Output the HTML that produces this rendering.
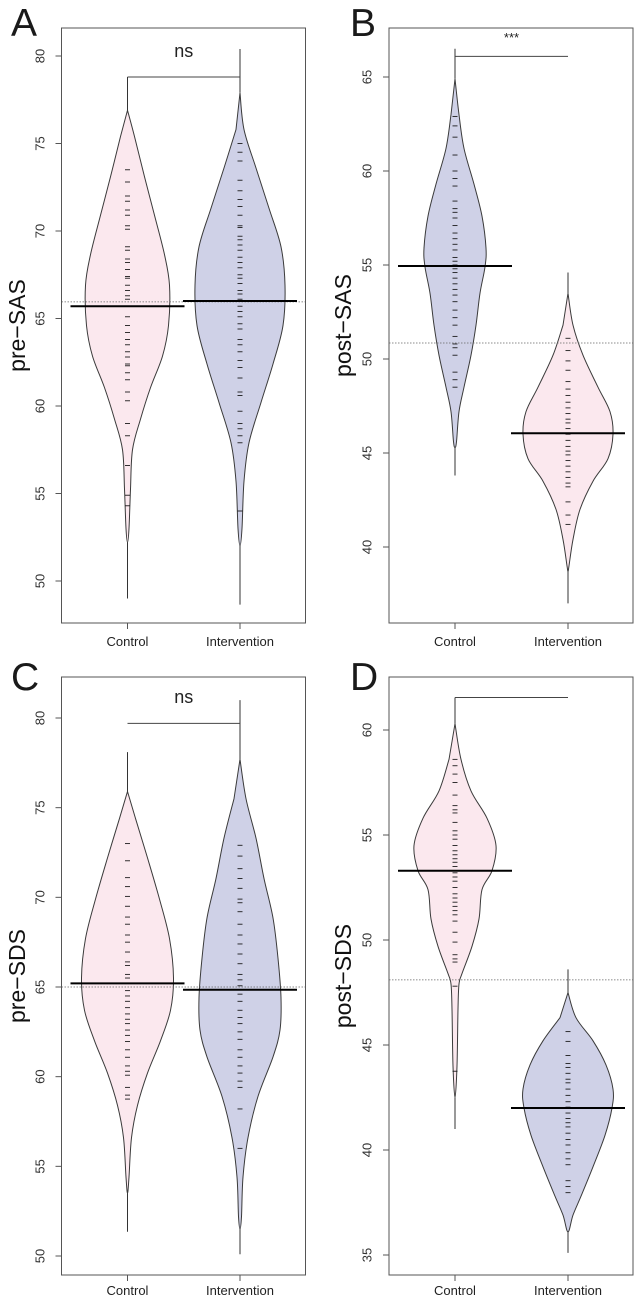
<!DOCTYPE html>
<html><head><meta charset="utf-8"><style>
html,body{margin:0;padding:0;background:#fff;}
svg{display:block;font-family:"Liberation Sans",Arial,sans-serif;}
</style></head><body>
<svg id="fig" width="634" height="1298" viewBox="0 0 634 1298" xmlns="http://www.w3.org/2000/svg"></svg>
<script>
// ---- data ----
const categories = ["Control", "Intervention"];
const panelLetters = ["A", "B", "C", "D"];
const yTitles = ["pre\u2212SAS", "post\u2212SAS", "pre\u2212SDS", "post\u2212SDS"];
const ticksA = [50, 55, 60, 65, 70, 75, 80];
const ticksB = [40, 45, 50, 55, 60, 65];
const ticksC = [50, 55, 60, 65, 70, 75, 80];
const ticksD = [35, 40, 45, 50, 55, 60];
const sigLabels = ["ns", "***", "ns", ""];
const bracketVals = [78.8, 66.1, 79.7, 61.55];
const overallMeans = [65.95, 50.85, 65.0, 48.1];
const groupMeansA = [65.7, 66.0];
const groupMeansB = [54.95, 46.05];
const groupMeansC = [65.2, 64.85];
const groupMeansD = [53.3, 42.0];
const rangeA = [[49.0, 78.8], [48.65, 80.4]];
const rangeB = [[43.8, 66.5], [37.0, 54.6]];
const rangeC = [[51.35, 78.1], [50.1, 81.0]];
const rangeD = [[41.0, 61.55], [35.1, 48.6]];
// density profiles: value levels and relative density
const profValsAc = [76.9, 75.4, 73.1, 70.9, 68.65, 66.9, 64.6, 62.85, 61.05, 59.25, 57.5, 55.25, 53, 52.2];
const profDensAc = [0, 7, 17, 27, 37, 42, 41, 35, 23, 13, 5, 3, 1.5, 0];
const profValsAi = [77.9, 75.8, 73.6, 71.3, 69.1, 66.9, 64.6, 62.4, 60.2, 57.9, 55.7, 53, 52];
const profDensAi = [0, 4, 16, 29, 41, 45, 43, 33, 21, 9, 4, 2, 0];
const profValsBc = [64.9, 63, 61.2, 59.3, 57.6, 55.9, 54.9, 53.5, 51.8, 50.2, 48.5, 47.2, 45.6, 45.3];
const profDensBc = [0, 4, 9, 19, 27, 31, 30, 25, 21, 16, 9, 4, 1.5, 0];
const profValsBi = [53.5, 51.8, 50.2, 48.5, 47.2, 46.0, 44.7, 43.5, 42.0, 40.4, 39.0, 38.7];
const profDensBi = [0, 5, 15, 30, 42, 45, 40, 25, 12, 5, 1, 0];
const profValsCc = [75.9, 74.4, 72.2, 69.9, 67.7, 65.5, 63.7, 62.0, 60.2, 58.4, 56.6, 54.4, 53.5];
const profDensCc = [0, 8, 20, 32, 42, 46, 43, 33, 20, 10, 4, 1.5, 0];
const profValsCi = [77.7, 75.5, 73.3, 71.05, 68.85, 66.6, 64.4, 62.6, 61.1, 58.9, 56.6, 54.4, 52.2, 51.5];
const profDensCi = [0, 6, 16, 24, 33, 38, 41, 40, 33, 18, 8, 3, 1.5, 0];
const profValsDc = [60.3, 58.6, 57.1, 55.8, 54.5, 53.3, 52.4, 51.0, 49.7, 48.4, 47.9, 46.7, 44, 42.5];
const profDensDc = [0, 6, 16, 32, 41, 37, 27, 24, 17, 7, 4, 3, 2, 0];
const profValsDi = [47.5, 46.3, 45.2, 44.05, 42.9, 42.0, 40.7, 39.2, 37.8, 36.9, 36.1];
const profDensDi = [0, 8, 25, 38, 45, 44, 37, 25, 13, 5, 0];
// observations
const obsAc = [73.5,72.8,72.0,71.7,71.2,70.9,70.3,70.1,69.1,68.9,68.4,68.2,67.8,67.4,67.3,66.9,66.6,66.3,66.1,65.1,64.6,64.2,63.8,63.5,63.1,62.8,62.4,62.3,61.9,61.5,60.8,60.3,59.0,58.3,56.6,54.9,54.3];
const obsAi = [75.0,74.5,74.0,72.9,72.3,71.8,71.4,70.9,70.3,70.2,69.7,69.5,69.2,68.9,68.5,68.2,67.9,67.5,67.3,67.0,66.6,66.4,66.1,65.7,65.4,65.1,64.7,64.4,63.8,63.5,63.1,62.6,62.2,61.6,60.8,60.6,59.7,59.0,58.7,58.3,57.9,54.0];
const obsBc = [62.9,62.4,61.8,60.85,60.0,59.6,59.2,58.4,58.0,57.8,57.5,57.1,56.7,56.4,56.1,55.8,55.4,55.2,55.0,54.8,54.6,54.3,54.0,53.7,53.4,53.05,52.6,52.2,51.8,51.2,50.8,50.6,50.2,49.3,48.9,48.5];
const obsBi = [51.1,50.45,49.9,49.4,48.8,48.4,48.06,47.7,47.4,47.1,46.8,46.6,46.3,46.0,45.67,45.35,45.1,44.9,44.6,44.3,44.0,43.7,43.4,43.2,42.4,41.7,41.2];
const obsCc = [73.0,72.04,71.1,70.6,70.05,69.5,68.9,68.5,67.9,67.5,66.95,66.4,66.2,65.7,65.5,65.2,64.8,64.5,64.2,63.85,63.5,63.2,62.96,62.6,62.3,61.96,61.5,61.08,60.6,60.3,60.08,59.4,58.97,58.75];
const obsCi = [72.9,72.3,71.6,71.05,70.5,69.9,69.7,69.2,68.5,67.9,67.4,66.84,66.3,65.7,65.4,65.07,64.6,64.2,63.7,63.3,62.96,62.5,62.08,61.5,61.08,60.6,60.2,59.75,59.4,58.2,56.0];
const obsDc = [58.6,58.3,57.9,57.5,56.9,56.4,56.2,56.05,55.6,55.2,55.0,54.8,54.5,54.25,54.06,53.87,53.7,53.5,53.2,53.0,52.8,52.5,52.2,52.0,51.8,51.6,51.4,51.2,50.9,50.37,49.9,49.3,49.1,48.95,47.8,43.75];
const obsDi = [45.64,45.17,44.5,44.12,43.93,43.65,43.37,43.2,42.9,42.6,42.3,42.04,41.76,41.5,41.3,41.1,40.8,40.5,40.24,39.87,39.58,39.3,38.54,38.26,37.97];

// ---- layout (not data) ----
const PINK = "#fbe8ee", LAV = "#cfd1e7";
const panels = [
 {x0:61.5,x1:305.5,y0:28,y1:623, v1:80,py1:56, v2:50,py2:581, cx:[127.5,240], titleX:17, tickLblX:40, letterX:11, letterY:36,
  ticks:ticksA, means:groupMeansA, ranges:rangeA, prof:[[profValsAc,profDensAc],[profValsAi,profDensAi]], obs:[obsAc,obsAi], fills:[PINK,LAV], sigY:57, labelY:646},
 {x0:389,x1:633,y0:28,y1:623, v1:65,py1:77, v2:40,py2:547, cx:[455,568], titleX:343, tickLblX:367, letterX:350, letterY:36,
  ticks:ticksB, means:groupMeansB, ranges:rangeB, prof:[[profValsBc,profDensBc],[profValsBi,profDensBi]], obs:[obsBc,obsBi], fills:[LAV,PINK], sigY:42, labelY:646},
 {x0:61.5,x1:305.5,y0:677,y1:1275, v1:80,py1:718, v2:50,py2:1256, cx:[127.5,240], titleX:17, tickLblX:40, letterX:11, letterY:690,
  ticks:ticksC, means:groupMeansC, ranges:rangeC, prof:[[profValsCc,profDensCc],[profValsCi,profDensCi]], obs:[obsCc,obsCi], fills:[PINK,LAV], sigY:703, labelY:1295},
 {x0:389,x1:633,y0:677,y1:1275, v1:60,py1:730, v2:35,py2:1255, cx:[455,568], titleX:343, tickLblX:367, letterX:350, letterY:690,
  ticks:ticksD, means:groupMeansD, ranges:rangeD, prof:[[profValsDc,profDensDc],[profValsDi,profDensDi]], obs:[obsDc,obsDi], fills:[PINK,LAV], sigY:690, labelY:1295}
];
const NS = "http://www.w3.org/2000/svg";
const svg = document.getElementById("fig");
function el(tag, attrs, parent, text){
  const e = document.createElementNS(NS, tag);
  for (const k in attrs) e.setAttribute(k, attrs[k]);
  if (text !== undefined) e.textContent = text;
  (parent||svg).appendChild(e);
  return e;
}
function crPath(pts){
  let d = `M${pts[0][0].toFixed(2)},${pts[0][1].toFixed(2)}`;
  for (let i=0;i<pts.length-1;i++){
    const p0=pts[i-1]||pts[i], p1=pts[i], p2=pts[i+1], p3=pts[i+2]||pts[i+1];
    const c1=[p1[0]+(p2[0]-p0[0])/6, p1[1]+(p2[1]-p0[1])/6];
    const c2=[p2[0]-(p3[0]-p1[0])/6, p2[1]-(p3[1]-p1[1])/6];
    d += ` C${c1[0].toFixed(2)},${c1[1].toFixed(2)} ${c2[0].toFixed(2)},${c2[1].toFixed(2)} ${p2[0].toFixed(2)},${p2[1].toFixed(2)}`;
  }
  return d + " Z";
}

panels.forEach((p, pi) => {
  const y = v => p.py1 + (v - p.v1) * (p.py2 - p.py1) / (p.v2 - p.v1);
  const g = el("g", {});
  
  

  const letter = el("text", {x:p.letterX, y:p.letterY, "font-size":39, fill:"#1a1a1a"}, g, panelLetters[pi]);
  
  

  const ty = (p.y0 + p.y1) / 2;
  const title = el("text", {x:p.titleX, y:ty, "font-size":23, fill:"#111", "text-anchor":"middle", "dominant-baseline":"central", transform:`rotate(-90 ${p.titleX} ${ty})`}, g, yTitles[pi]);
  
  

  // beans
  [0,1].forEach(k => {
    const cx = p.cx[k], vals = p.prof[k][0], dens = p.prof[k][1];
    const right = vals.map((v,i)=>[cx+dens[i], y(v)]);
    const left = vals.map((v,i)=>[cx-dens[i], y(v)]).slice(1,-1).reverse();
    const bean = el("path", {d:crPath(right.concat(left)), fill:p.fills[k], stroke:"#3a3a3a", "stroke-width":1}, g);
    
    
    const top = el("line", {x1:cx, x2:cx, y1:y(p.ranges[k][1]), y2:y(vals[0]), stroke:"#333", "stroke-width":1}, g);
    
    
    const bot = el("line", {x1:cx, x2:cx, y1:y(vals[vals.length-1]), y2:y(p.ranges[k][0]), stroke:"#333", "stroke-width":1}, g);
    
    
    p.obs[k].forEach(v => {
      const t = el("line", {x1:cx-2.5, x2:cx+2.5, y1:y(v), y2:y(v), stroke:"#111", "stroke-width":1, opacity:0.85}, g);
      
      
    });
  });
  // overall mean dotted
  const om = el("line", {x1:p.x0, x2:p.x1, y1:y(overallMeans[pi]), y2:y(overallMeans[pi]), stroke:"#666", "stroke-width":0.8, "stroke-dasharray":"1.5,1.5"}, g);
  
  
  [0,1].forEach(k => {
    const m = el("line", {x1:p.cx[k]-57, x2:p.cx[k]+57, y1:y(p.means[k]), y2:y(p.means[k]), stroke:"#000", "stroke-width":2}, g);
    
    
  });
  // bracket
  const bv = bracketVals[pi], by = y(bv);
  const end0 = (bv - p.ranges[0][1] > 0 && bv - p.ranges[0][1] < 1) ? y(p.ranges[0][1]) : by;
  const end1 = (bv - p.ranges[1][1] > 0 && bv - p.ranges[1][1] < 1) ? y(p.ranges[1][1]) : by;
  const br = el("path", {d:`M${p.cx[0]},${end0} L${p.cx[0]},${by} L${p.cx[1]},${by} L${p.cx[1]},${end1}`, fill:"none", stroke:"#444", "stroke-width":1}, g);
  
  
  if (sigLabels[pi]) {
    const st = el("text", {x:(p.cx[0]+p.cx[1])/2, y:p.sigY, "font-size": sigLabels[pi]==="ns"?18:13, fill:"#222", "text-anchor":"middle"}, g, sigLabels[pi]);
    
    
  }
  // frame
  const fr = el("rect", {x:p.x0, y:p.y0, width:p.x1-p.x0, height:p.y1-p.y0, fill:"none", stroke:"#555", "stroke-width":1}, g);
  
  
  // y ticks
  p.ticks.forEach(v => {
    const tk = el("line", {x1:p.x0-6, x2:p.x0, y1:y(v), y2:y(v), stroke:"#555", "stroke-width":1}, g);
    
    
    const tl = el("text", {x:p.tickLblX, y:y(v), "font-size":13, fill:"#333", "text-anchor":"middle", "dominant-baseline":"central", transform:`rotate(-90 ${p.tickLblX} ${y(v)})`}, g, String(v));
    
    
  });
  // x ticks
  categories.forEach((c, k) => {
    const xt = el("line", {x1:p.cx[k], x2:p.cx[k], y1:p.y1, y2:p.y1+6, stroke:"#555", "stroke-width":1}, g);
    
    
    const xl = el("text", {x:p.cx[k], y:p.labelY, "font-size":13, fill:"#222", "text-anchor":"middle"}, g, c);
    
    
  });
});
</script>
</body></html>
